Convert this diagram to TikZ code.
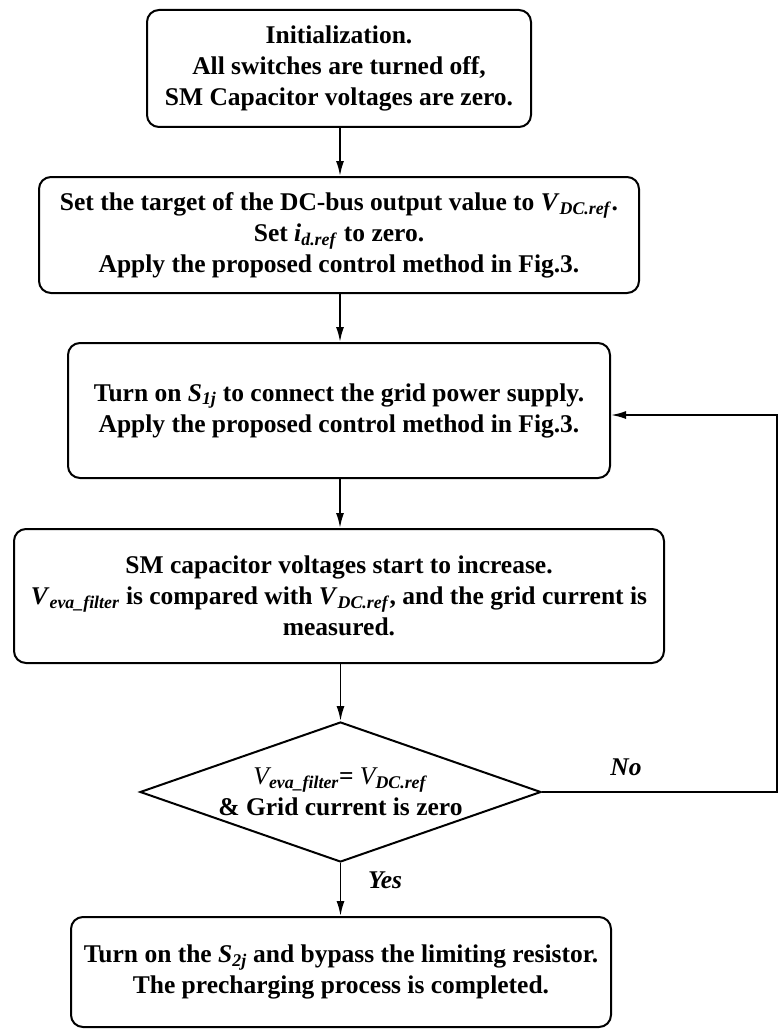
\documentclass[tikz,border=0pt]{standalone}
\usepackage{fontspec}
\setmainfont{Liberation Serif}
\usetikzlibrary{arrows.meta,shapes.geometric}
\newcommand{\vsub}[2]{\textit{#1}\textsubscript{\textit{#2}}}
\begin{document}
\begin{tikzpicture}[x=1pt,y=-1pt,
  font=\fontsize{25.5}{31}\selectfont\bfseries,
  box/.style={draw, rounded corners=12pt, line width=2pt, align=center, inner sep=0pt},
  decision/.style={draw, diamond, line width=2pt, inner sep=0pt, aspect=2.86},
  conn/.style={line width=1.8pt, -{Latex[length=15pt,width=8pt]}},
  lbl/.style={font=\fontsize{25.5}{31}\selectfont\bfseries\itshape}]
\useasboundingbox (0,0) rectangle (778,1030);
\node[box, minimum width=384pt, minimum height=117pt] (b1) at (339,68.5)
  {Initialization.\\All switches are turned off,\\SM Capacitor voltages are zero.};
\node[box, minimum width=600pt, minimum height=116pt] (b2) at (339,235)
  {Set the target of the DC-bus output value to \vsub{V}{DC.ref}.\\Set \vsub{i}{d.ref} to zero.\\Apply the proposed control method in Fig.3.};
\node[box, minimum width=542pt, minimum height=135pt] (b3) at (339,410.5)
  {Turn on \vsub{S}{1j} to connect the grid power supply.\\Apply the proposed control method in Fig.3.};
\node[box, minimum width=650pt, minimum height=134pt] (b4) at (339,596)
  {SM capacitor voltages start to increase.\\\vsub{V}{eva\_filter} is compared with \vsub{V}{DC.ref}, and the grid current is\\measured.};
\node[decision, minimum width=401pt, minimum height=140pt,
  label={[align=center, font=\fontsize{25.5}{31}\selectfont\bfseries]center:{{\mdseries\itshape V}\textsubscript{\textit{eva\_filter}}= {\mdseries\itshape V}\textsubscript{\textit{DC.ref}}\\\& Grid current is zero}}] (d) at (340.5,792) {};
\node[box, minimum width=540pt, minimum height=110pt] (b6) at (341,972)
  {Turn on the \vsub{S}{2j} and bypass the limiting resistor.\\The precharging process is completed.};
\node[lbl] (no) at (626,767) {No};
\node[lbl] (yes) at (385,880) {Yes};
\coordinate (c1) at (777,792);
\coordinate (c2) at (777,415);
\draw[conn] (b1.south -| 340,0) -- (b2.north -| 340,0);
\draw[conn] (b2.south -| 340,0) -- (b3.north -| 340,0);
\draw[conn] (b3.south -| 340,0) -- (b4.north -| 340,0);
\draw[conn] (b4.south -| d.north) -- (d.north);
\draw[conn] (d.south) -- (b6.north -| d.south);
\draw[conn] (d.east) -- (c1) -- (c2) -- (b3.east |- c2);
\end{tikzpicture}
\end{document}
